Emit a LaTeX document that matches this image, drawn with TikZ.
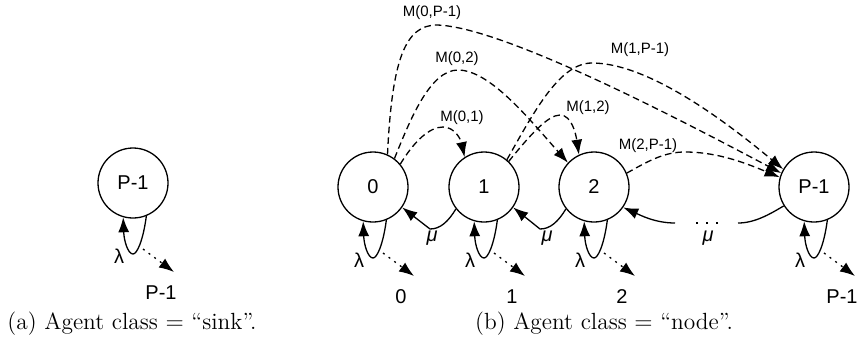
\documentclass[tikz,border=0pt]{standalone}
\usepackage{fontspec}
\newfontfamily\hv{Liberation Sans}
\usetikzlibrary{arrows.meta}
\begin{document}
\begin{tikzpicture}[x=0.5pt,y=-0.5pt,
  st/.style={circle,draw,line width=0.65pt,minimum size=35pt,inner sep=0pt,font=\hv\fontsize{10}{12}\selectfont},
  tr/.style={line width=0.65pt},
  arr/.style={tr,-{Latex[length=7.5pt,width=5.5pt]}},
  darr/.style={arr,dash pattern=on 3.3pt off 2pt},
  dotarr/.style={arr,dash pattern=on 1pt off 2.5pt},
  ml/.style={font=\hv\fontsize{7.5}{9}\selectfont,inner sep=0pt},
  lab/.style={font=\hv\fontsize{10}{12}\selectfont,inner sep=0pt},
  captxt/.style={font=\fontsize{11.7}{14}\selectfont,inner sep=0pt}]
\useasboundingbox (0,0) rectangle (861,345);
% states
\node[st] (s) at (133,183) {P-1};
\node[st] (n0) at (373,187) {0};
\node[st] (n1) at (484,187) {1};
\node[st] (n2) at (594,187) {2};
\node[st] (np) at (814,187) {P-1};
% self loops, lambda, outputs
\foreach \n/\t in {s/P-1,n0/0,n1/1,n2/2,np/P-1}{
  \draw[arr] (\n.-68) .. controls ([shift={(10,58)}]\n.center) and ([shift={(4,71)}]\n.center) .. ([shift={(0,71)}]\n.center)
     .. controls ([shift={(-5,71)}]\n.center) and ([shift={(-9,58)}]\n.center) .. (\n.-106);
  \node[lab] (\n-lam) at ([shift={(-14,73)}]\n.center) {λ};
  \coordinate (\n-d1) at ([shift={(10,66)}]\n.center);
  \coordinate (\n-d2) at ([shift={(41,89)}]\n.center);
  \draw[dotarr] (\n-d1) -- (\n-d2);
  \node[lab] (\n-out) at ([shift={(28,110)}]\n.center) {\t};
}
% mu arrows
\draw[arr] (n1.-142) .. controls (448,222) and (440,229) .. (430,229) -- (n0.-35);
\node[lab] (mu1) at (432,238) {\itshape μ};
\draw[arr] (n2.-142) .. controls (558,222) and (550,229) .. (540,229) -- (n1.-35);
\node[lab] (mu2) at (547,238) {\itshape μ};
\coordinate (g1) at (738,223);
\coordinate (g2) at (675,223);
\coordinate (g3) at (718,223);
\coordinate (g4) at (692,223);
\draw[tr] (np.-148) .. controls (770,214) and (755,223) .. (g1);
\draw[tr,dash pattern=on 1pt off 4pt] (g3) -- (g4);
\draw[arr] (g2) .. controls (655,223) and (640,215) .. (n2.-35);
\node[lab] (mu3) at (708,238) {\itshape μ};
% migration arrows
\draw[darr] (n0.40) .. controls (415,140) and (430,127) .. (443,127) .. controls (455,127) and (461,140) .. (n1.123);
\node[ml] (m01) at (462,118) {M(0,1)};
\draw[darr] (n0.53) .. controls (410,120) and (430,70) .. (458,70) .. controls (490,70) and (530,120) .. (n2.137);
\node[ml] (m02) at (457,59) {M(0,2)};
\draw[darr] (n0.66) .. controls (392,60) and (405,25) .. (437,25) .. controls (505,27) and (690,125) .. (np.157);
\node[ml] (m0p) at (432,13) {M(0,P-1)};
\draw[darr] (n1.46) .. controls (530,135) and (548,115) .. (560,115) .. controls (572,115) and (576,135) .. (n2.115);
\node[ml] (m12) at (588,108) {M(1,2)};
\draw[darr] (n1.50) .. controls (535,110) and (560,63) .. (592,63) .. controls (650,63) and (730,125) .. (np.150);
\node[ml] (m1p) at (640,50) {M(1,P-1)};
\draw[darr] (n2.23) .. controls (650,160) and (665,152) .. (685,152) .. controls (720,152) and (750,165) .. (np.164);
\node[ml] (m2p) at (648,146) {M(2,P-1)};
% captions
\node[captxt] (capa) at (132,324) {(a) Agent class $=$ ``sink''.};
\node[captxt] (capb) at (604,324) {(b) Agent class $=$ ``node''.};
\end{tikzpicture}
\end{document}
